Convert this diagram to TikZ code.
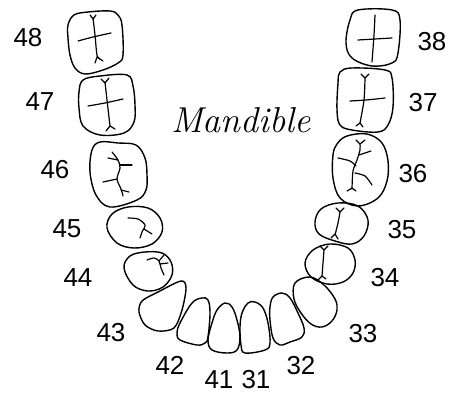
\documentclass[tikz,border=0pt]{standalone}
\usepackage{fontspec}
\newfontfamily\labelfont{Liberation Sans}
\begin{document}
\begin{tikzpicture}[x=1pt,y=-1pt,
  outline/.style={line width=1.4pt,line join=round},
  fiss/.style={line width=1.2pt,line cap=round,line join=round},
  toothlabel/.style={font=\labelfont\fontsize{26}{26}\selectfont,inner sep=0pt},
  title/.style={font=\itshape\fontsize{36}{36}\selectfont,inner sep=0pt}]
\useasboundingbox (0,0) rectangle (450,396);
% ---- 48
\draw[outline] plot[smooth cycle,tension=0.6] coordinates {(68,25) (74,15) (88,12) (110,11) (118,15) (122,25) (123,55) (118,63) (103,70) (85,74) (75,68) (70,55) (68,38)};
\draw[fiss] plot[smooth] coordinates {(93,18) (95,35) (97,55) (100,59)};
\draw[fiss] (90,15)--(93,19)--(96,15);
\draw[fiss] (95,63)--(97,57)--(103,61);
\draw[fiss] plot[smooth] coordinates {(78,41) (93,37) (111,33)};
% ---- 47
\draw[outline] plot[smooth cycle,tension=0.6] coordinates {(83,80) (100,76) (127,75) (133,86) (135,105) (134,122) (124,133) (100,135) (83,126) (79,108) (79,92)};
\draw[fiss] plot[smooth] coordinates {(105,82) (107,100) (110,126)};
\draw[fiss] (101,79)--(105,83)--(109,78);
\draw[fiss] (106,131)--(110,126)--(115,129);
\draw[fiss] plot[smooth] coordinates {(88,106) (105,103) (123,99)};
% ---- 46
\draw[outline] plot[smooth cycle,tension=0.6] coordinates {(92,150) (100,142) (118,143) (136,145) (145,158) (147,175) (146,190) (137,200) (110,207) (96,195) (90,172)};
\draw[fiss] plot[smooth] coordinates {(112,152) (118,160) (120,168) (117,179) (121,189) (123,196)};
\draw[fiss] (108,158)--(118,160);
\draw[fiss] (120,165)--(132,165);
\draw[fiss] (103,182)--(117,179);
\draw[fiss] (121,190)--(129,192);
% ---- 45
\draw[outline] plot[smooth cycle,tension=0.6] coordinates {(107,228) (112,214) (128,207) (148,208) (160,218) (162,232) (152,244) (134,248) (117,243)};
\draw[fiss] plot[smooth] coordinates {(128,218) (138,219) (145,225) (142,232) (140,238)};
\draw[fiss] (144,229)--(152,234);
% ---- 44
\draw[outline] plot[smooth cycle,tension=0.6] coordinates {(124,268) (130,256) (145,252) (162,253) (171,262) (172,275) (163,287) (148,291) (133,285)};
\draw[fiss] plot[smooth] coordinates {(147,260) (154,258) (159,261) (161,268) (164,275)};
\draw[fiss] (159,261)--(164,255);
\draw[fiss] (160,264)--(168,263);
% ---- 43
\draw[outline] plot[smooth cycle,tension=0.5] coordinates {(181,281) (186,288) (182,310) (174,328) (158,331) (145,325) (139,312) (142,301) (158,292)};
% ---- 42
\draw[outline] plot[smooth cycle,tension=0.6] coordinates {(192,303) (202,298) (208,300) (210,313) (208,337) (205,343) (197,345) (180,340) (177,333) (180,323)};
% ---- 41
\draw[outline] plot[smooth cycle,tension=0.6] coordinates {(212,323) (217,310) (225,303) (232,307) (237,320) (240,337) (237,350) (227,353) (212,350) (208,340)};
% ---- 31
\draw[outline] plot[smooth cycle,tension=0.6] coordinates {(242,313) (248,303) (255,302) (263,308) (268,323) (270,343) (265,350) (245,353) (241,345) (240,327)};
% ---- 32
\draw[outline] plot[smooth cycle,tension=0.6] coordinates {(273,297) (282,293) (290,298) (298,313) (304,328) (302,337) (290,342) (280,345) (273,338) (270,320) (270,307)};
% ---- 33
\draw[outline] plot[smooth cycle,tension=0.6] coordinates {(295,283) (310,277) (324,285) (335,299) (337,310) (332,321) (322,327) (311,324) (301,313) (294,299)};
% ---- 34
\draw[outline] plot[smooth cycle,tension=0.6] coordinates {(305,263) (313,250) (330,244) (348,248) (355,260) (353,273) (343,282) (327,284) (311,277)};
\draw[fiss] plot[smooth] coordinates {(324,250) (323,263) (322,276)};
\draw[fiss] (320,246)--(324,250)--(328,246);
\draw[fiss] (318,280)--(322,276)--(326,279);
% ---- 35
\draw[outline] plot[smooth cycle,tension=0.6] coordinates {(315,222) (321,209) (338,203) (358,206) (368,220) (364,236) (352,244) (335,241) (319,234)};
\draw[fiss] plot[smooth] coordinates {(340,212) (338,223) (335,235)};
\draw[fiss] (336,208)--(340,212)--(344,208);
\draw[fiss] (331,238)--(335,234)--(338,239);
% ---- 36
\draw[outline] plot[smooth cycle,tension=0.6] coordinates {(333,155) (337,144) (347,136) (367,134) (382,143) (388,161) (387,181) (378,198) (358,206) (340,198) (333,178)};
\draw[fiss] plot[smooth] coordinates {(360,144) (360,150) (357,160) (353,171) (352,189)};
\draw[fiss] (356,140)--(360,144)--(365,140);
\draw[fiss] (359,155)--(371,151);
\draw[fiss] plot[smooth] coordinates {(338,158) (350,161) (356,166)};
\draw[fiss] plot[smooth] coordinates {(355,173) (365,176) (372,185)};
\draw[fiss] (347,191)--(352,188)--(356,191);
% ---- 37
\draw[outline] plot[smooth cycle,tension=0.6] coordinates {(340,72) (352,68) (385,70) (392,78) (393,107) (388,125) (378,132) (352,130) (340,125) (337,110) (338,83)};
\draw[fiss] plot[smooth] coordinates {(365,78) (364,100) (360,123)};
\draw[fiss] (361,74)--(365,78)--(369,74);
\draw[fiss] (356,126)--(360,123)--(363,127);
\draw[fiss] plot[smooth] coordinates {(350,101) (366,100) (385,98)};
% ---- 38
\draw[outline] plot[smooth cycle,tension=0.6] coordinates {(350,20) (358,10) (392,10) (400,20) (398,53) (392,63) (372,66) (352,58) (346,43)};
\draw[fiss] plot[smooth] coordinates {(375,15) (374,35) (372,62)};
\draw[fiss] plot[smooth] coordinates {(358,40) (375,39) (392,38)};
% ---- labels
\node[toothlabel] (l48) at (28,38) {48};
\node[toothlabel] (l47) at (40,102) {47};
\node[toothlabel] (l46) at (55,170) {46};
\node[toothlabel] (l45) at (67,229) {45};
\node[toothlabel] (l44) at (78,278) {44};
\node[toothlabel] (l43) at (111,333) {43};
\node[toothlabel] (l42) at (170,365) {42};
\node[toothlabel] (l41) at (219,380) {41};
\node[toothlabel] (l31) at (256,380) {31};
\node[toothlabel] (l32) at (301,366) {32};
\node[toothlabel] (l33) at (363,334) {33};
\node[toothlabel] (l34) at (385,278) {34};
\node[toothlabel] (l35) at (402,230) {35};
\node[toothlabel] (l36) at (413,174) {36};
\node[toothlabel] (l37) at (423,103) {37};
\node[toothlabel] (l38) at (432,42) {38};
\node[title] (mand) at (241,120) {Mandible};
\end{tikzpicture}
\end{document}
